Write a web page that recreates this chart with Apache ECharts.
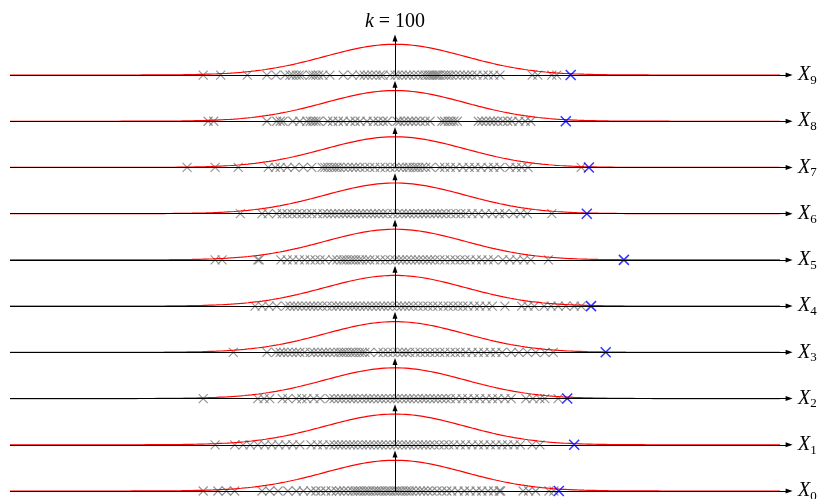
<!DOCTYPE html>
<html>
<head>
<meta charset="utf-8">
<script src="https://cdn.jsdelivr.net/npm/echarts@6/dist/echarts.min.js"></script>
<style>html,body{margin:0;padding:0;background:#fff}#c{width:826px;height:499px}</style>
</head>
<body>
<div id="c"></div>
<script>
// ---- data (values in units of sigma) ----
const rowNames = ['0','1','2','3','4','5','6','7','8','9'];
const titleVar = 'k';
const titleValue = '100';
const samples0 = [-2.74,-2.53,-2.41,-2.29,-1.90,-1.79,-1.67,-1.53,-1.41,-1.31,-1.20,-1.13,-1.06,-0.99,-0.91,-0.84,-0.79,-0.73,-0.67,-0.61,-0.57,-0.53,-0.49,-0.44,-0.40,-0.36,-0.31,-0.27,-0.23,-0.19,-0.14,-0.10,-0.06,-0.01,0.03,0.07,0.11,0.16,0.20,0.24,0.30,0.36,0.41,0.47,0.53,0.60,0.67,0.74,0.81,0.90,0.99,1.07,1.16,1.24,1.33,1.41,1.49,1.51,1.83,1.91,2.01,2.20,2.27];
const samples1 = [-2.57,-2.29,-2.17,-2.07,-1.96,-1.86,-1.76,-1.66,-1.56,-1.46,-1.36,-1.20,-1.11,-1.03,-0.93,-0.87,-0.81,-0.76,-0.70,-0.64,-0.59,-0.53,-0.47,-0.41,-0.36,-0.30,-0.24,-0.19,-0.13,-0.07,-0.01,0.04,0.10,0.16,0.21,0.27,0.33,0.39,0.44,0.50,0.56,0.63,0.70,0.77,0.84,0.93,1.01,1.10,1.19,1.27,1.36,1.44,1.53,1.61,1.70,1.79,1.96,2.07];
const samples2 = [-2.74,-1.96,-1.87,-1.79,-1.61,-1.53,-1.41,-1.33,-1.26,-1.16,-1.07,-0.93,-0.87,-0.81,-0.76,-0.70,-0.64,-0.59,-0.53,-0.47,-0.41,-0.36,-0.30,-0.24,-0.19,-0.13,-0.07,-0.01,0.04,0.10,0.16,0.21,0.27,0.33,0.39,0.44,0.50,0.56,0.61,0.67,0.73,0.79,0.87,0.96,1.04,1.13,1.21,1.30,1.39,1.47,1.57,1.66,1.87,1.97,2.07,2.14,2.33];
const samples3 = [-2.31,-1.83,-1.70,-1.64,-1.59,-1.53,-1.47,-1.41,-1.36,-1.29,-1.21,-1.16,-1.10,-1.04,-0.99,-0.93,-0.87,-0.81,-0.77,-0.73,-0.69,-0.64,-0.60,-0.56,-0.51,-0.47,-0.43,-0.36,-0.24,-0.17,-0.10,-0.03,0.04,0.10,0.16,0.21,0.29,0.36,0.43,0.50,0.57,0.64,0.71,0.79,0.86,0.93,1.01,1.10,1.19,1.27,1.36,1.44,1.53,1.66,1.77,1.89,2.01,2.14,2.26];
const samples4 = [-2.00,-1.90,-1.80,-1.69,-1.56,-1.50,-1.44,-1.39,-1.33,-1.27,-1.21,-1.16,-1.10,-1.04,-0.97,-0.90,-0.84,-0.79,-0.73,-0.67,-0.61,-0.56,-0.50,-0.44,-0.39,-0.33,-0.27,-0.21,-0.16,-0.10,-0.04,0.03,0.09,0.14,0.20,0.26,0.33,0.40,0.47,0.54,0.61,0.69,0.76,0.83,0.90,0.97,1.04,1.13,1.21,1.30,1.39,1.57,1.81,1.90,1.99,2.13,2.23,2.33,2.44,2.56,2.66];
const samples5 = [-2.57,-2.47,-1.96,-1.94,-1.63,-1.54,-1.46,-1.37,-1.29,-1.21,-1.14,-1.07,-1.00,-0.89,-0.83,-0.77,-0.73,-0.69,-0.64,-0.60,-0.56,-0.51,-0.47,-0.41,-0.36,-0.29,-0.21,-0.14,-0.07,0.00,0.06,0.11,0.17,0.23,0.29,0.34,0.40,0.46,0.51,0.57,0.64,0.71,0.79,0.86,0.93,1.00,1.07,1.16,1.24,1.33,1.41,1.54,1.64,1.74,1.84,1.94,2.19];
const samples6 = [-2.21,-1.90,-1.81,-1.69,-1.61,-1.54,-1.47,-1.40,-1.33,-1.26,-1.19,-1.11,-1.03,-0.97,-0.91,-0.86,-0.80,-0.74,-0.69,-0.63,-0.57,-0.51,-0.46,-0.40,-0.34,-0.29,-0.23,-0.17,-0.11,-0.03,0.04,0.10,0.16,0.21,0.27,0.33,0.39,0.44,0.50,0.56,0.61,0.67,0.73,0.80,0.87,0.94,1.01,1.10,1.19,1.29,1.39,1.49,1.57,1.69,1.79,1.89,2.24];
const samples7 = [-2.97,-2.57,-2.24,-1.81,-1.71,-1.64,-1.54,-1.43,-1.31,-1.19,-1.04,-1.00,-0.96,-0.91,-0.87,-0.83,-0.79,-0.73,-0.67,-0.61,-0.56,-0.50,-0.43,-0.36,-0.29,-0.21,-0.14,-0.07,0.00,0.06,0.11,0.17,0.21,0.26,0.30,0.34,0.39,0.44,0.51,0.64,0.71,0.79,0.87,0.97,1.06,1.14,1.23,1.33,1.41,1.50,1.64,1.73,1.81,1.90,2.66];
const samples8 = [-2.67,-2.59,-1.83,-1.69,-1.64,-1.60,-1.46,-1.36,-1.26,-1.21,-1.17,-1.13,-1.09,-0.96,-0.89,-0.81,-0.74,-0.64,-0.57,-0.50,-0.40,-0.31,-0.24,-0.17,-0.11,0.03,0.07,0.13,0.19,0.24,0.30,0.36,0.43,0.50,0.67,0.71,0.76,0.80,0.84,0.89,1.19,1.24,1.30,1.36,1.41,1.47,1.54,1.61,1.67,1.77,1.86,1.94];
const samples9 = [-2.74,-2.49,-2.11,-1.83,-1.70,-1.57,-1.50,-1.46,-1.41,-1.37,-1.33,-1.21,-1.17,-1.13,-1.09,-1.03,-0.93,-0.74,-0.61,-0.50,-0.44,-0.39,-0.33,-0.27,-0.21,-0.17,-0.07,0.00,0.04,0.10,0.16,0.21,0.27,0.33,0.39,0.43,0.47,0.50,0.53,0.56,0.59,0.61,0.64,0.69,0.73,0.77,0.81,0.87,0.93,0.99,1.04,1.10,1.17,1.26,1.33,1.41,1.50,1.96,2.04,2.24,2.31];
const maxima = [2.34, 2.56, 2.46, 3.01, 2.80, 3.27, 2.74, 2.77, 2.44, 2.51];
const MU = 0, SIGMA = 1;           // density drawn on every row
const X_MIN = -5.5, X_MAX = 5.5;   // curve / axis domain
// ----------------------------------------------------------------

const samples = [samples0,samples1,samples2,samples3,samples4,samples5,samples6,samples7,samples8,samples9];
const CURVE_SCALE = 1.665, ARROW_END = 5.63, VARROW = 0.80;
const serif = '"Liberation Serif","DejaVu Serif",serif';
const crossPath = 'path://M0,0L10,10M10,0L0,10';
const triPath = 'path://M5,0L10,10L0,10Z';

function pdf(x){ return Math.exp(-0.5*((x-MU)/SIGMA)**2)/(SIGMA*Math.sqrt(2*Math.PI)); }

const grayData = [];
samples.forEach((arr,i)=>arr.forEach(v=>grayData.push([v,i])));
const blueData = maxima.map((v,i)=>[v,i]);

const markData = [];
rowNames.forEach((n,i)=>{
  markData.push([{coord:[X_MIN,i], label:{show:true, position:'end', distance:9,
      formatter:'{x|X}{s|'+n+'}'}}, {coord:[ARROW_END,i]}]);
  const v = [{coord:[0,i]}, {coord:[0,i+VARROW]}];
  if (i === rowNames.length-1) {
    v[0].label = {show:true, position:'end', distance:6,
      formatter: '{i|' + titleVar + '}{r| = ' + titleValue + '}'};
  }
  markData.push(v);
});

const curveSeries = rowNames.map((n,i)=>{
  const d = [];
  for (let k=0;k<=440;k++){ const x = X_MIN + (X_MAX-X_MIN)*k/440; d.push([x, i + CURVE_SCALE*pdf(x)]); }
  return {type:'line', data:d, showSymbol:false, symbol:'none', silent:true, z:3,
    lineStyle:{color:'#ff0000', width:1.2}, clip:false};
});

const chart = echarts.init(document.getElementById('c'), null, {renderer:'canvas'});
chart.setOption({
  animation:false,
  grid:{left:10, right:33, top:28.8, bottom:8},
  xAxis:{type:'value', min:X_MIN, max:X_MIN+783/70, show:false},
  yAxis:{type:'value', min:0, max:10, show:false},
  series:[
    {type:'line', data:[], z:1, silent:true,
     markLine:{silent:true, animation:false, symbol:['none', triPath], symbolSize:[5,7],
       lineStyle:{color:'#000', width:1, type:'solid'},
       label:{show:false, color:'#000',
         rich:{
           x:{fontFamily:serif, fontStyle:'italic', fontSize:20, lineHeight:24, color:'#000'},
           s:{fontFamily:serif, fontSize:13, lineHeight:12, verticalAlign:'bottom', color:'#000'},
           i:{fontFamily:serif, fontStyle:'italic', fontSize:20, color:'#000'},
           r:{fontFamily:serif, fontSize:20, color:'#000'}
         }},
       emphasis:{disabled:true},
       data:markData}},
    {type:'scatter', data:grayData, z:2, silent:true, symbol:crossPath, symbolSize:9,
     itemStyle:{color:'rgba(0,0,0,0)', borderColor:'#808080', borderWidth:1.1, opacity:0.85}},
    ...curveSeries,
    {type:'scatter', data:blueData, z:4, silent:true, symbol:crossPath, symbolSize:10,
     itemStyle:{color:'rgba(0,0,0,0)', borderColor:'#0000ff', borderWidth:1.5}}
  ]
});
</script>
</body>
</html>
